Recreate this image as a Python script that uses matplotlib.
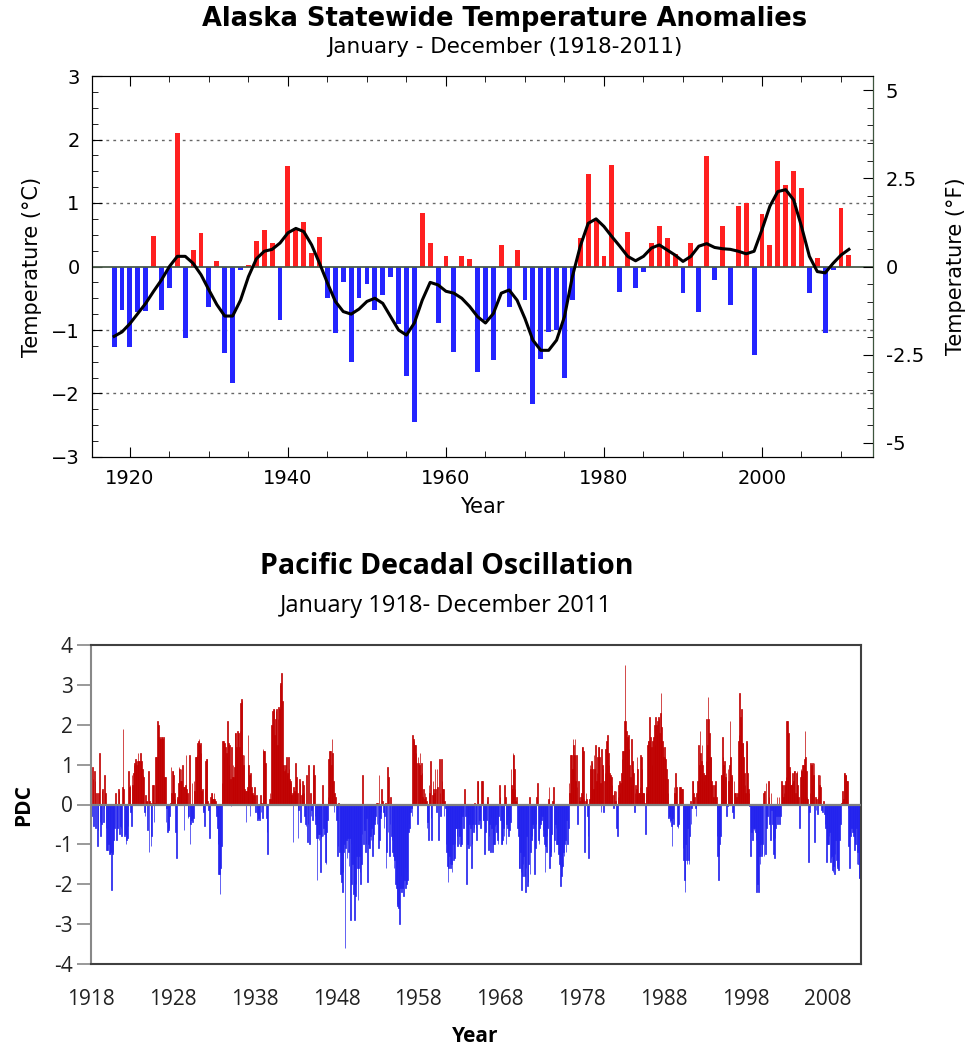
import numpy as np
import matplotlib
matplotlib.use("Agg")
import matplotlib.pyplot as plt
from matplotlib.ticker import MultipleLocator

# ---- Alaska annual temperature anomalies (deg C), 1918-2011
ak_years = list(range(1918, 2012))
ak_anom = [
    -1.27, -0.69, -1.27, -0.72, -0.70, 0.48, -0.68, -0.34, 2.10, -1.12,   # 1918-1927
    0.26, 0.52, -0.63, 0.09, -1.37, -1.83, -0.05, 0.03, 0.40, 0.58,       # 1928-1937
    0.37, -0.84, 1.58, 0.60, 0.70, 0.21, 0.47, -0.50, -1.05, -0.24,       # 1938-1947
    -1.50, -0.50, -0.27, -0.69, -0.45, -0.17, -0.90, -1.72, -2.45, 0.84,  # 1948-1957
    0.37, -0.89, 0.16, -1.34, 0.16, 0.12, -1.66, -0.84, -1.47, 0.34,      # 1958-1967
    -0.63, 0.26, -0.53, -2.16, -1.45, -1.03, -1.00, -1.76, -0.53, 0.45,   # 1968-1977
    1.45, 0.71, 0.17, 1.60, -0.40, 0.55, -0.34, -0.08, 0.37, 0.63,        # 1978-1987
    0.45, 0.20, -0.42, 0.37, -0.71, 1.74, -0.21, 0.63, -0.60, 0.95,       # 1988-1997
    1.00, -1.39, 0.82, 0.34, 1.66, 1.29, 1.50, 1.24, -0.42, 0.13,         # 1998-2007
    -1.05, -0.05, 0.92, 0.18,                                             # 2008-2011
]
# smoothed curve
ak_smooth = [
    -1.10, -1.03, -0.90, -0.74, -0.58, -0.39, -0.21, 0.00, 0.16, 0.16,
    0.05, -0.13, -0.37, -0.60, -0.78, -0.78, -0.53, -0.16, 0.12, 0.24,
    0.27, 0.37, 0.53, 0.60, 0.55, 0.34, 0.05, -0.26, -0.55, -0.71,
    -0.75, -0.67, -0.55, -0.50, -0.58, -0.79, -1.00, -1.08, -0.89, -0.53,
    -0.25, -0.29, -0.39, -0.42, -0.50, -0.63, -0.79, -0.89, -0.74, -0.42,
    -0.37, -0.53, -0.82, -1.16, -1.32, -1.32, -1.16, -0.79, -0.16, 0.32,
    0.68, 0.75, 0.63, 0.47, 0.32, 0.16, 0.09, 0.16, 0.29, 0.34,
    0.26, 0.18, 0.08, 0.16, 0.32, 0.36, 0.30, 0.28, 0.27, 0.24,
    0.20, 0.24, 0.58, 0.95, 1.18, 1.21, 1.05, 0.63, 0.16, -0.08,
    -0.10, 0.05, 0.18, 0.27,
]

# ---- PDO monthly index, Jan 1918 - Dec 2011 (one row per year)
pdo_start = 1918
pdo = [
    -1.1, -0.3, 0.95, 0.65, -0.55, 0.85, 0.6, -0.6, 0.3, -1.05, -0.65, 0.3,      # 1918
    1.3, -0.45, -0.8, -0.5, 0.35, 0.4, -0.45, -0.1, 0.75, 0.3, -0.6, -1.15,       # 1919
    -1.15, -0.6, -1.0, -1.25, -1.25, -1.2, -2.15, -1.25, -1.2, -0.9, -0.6, 0.05,  # 1920
    0.3, -0.9, -0.6, -0.6, 0.4, 0.35, -0.75, -0.55, -0.6, -0.8, 0.45, 1.9,        # 1921
    0.4, -0.8, -0.75, -1.0, -0.9, -0.85, -0.55, 0.85, 0.45, 0.5, -0.2, -0.55,     # 1922
    0.75, 0.5, 0.8, 1.0, 1.05, 1.15, 1.1, 1.0, 1.1, 1.3, 1.1, 1.1,                # 1923
    1.3, 1.1, 1.1, 0.9, 0.75, 0.7, -0.2, -0.3, 0.25, 0.1, 0.1, -0.65,             # 1924
    0.85, -1.2, 0.1, 0.05, -1.05, -0.8, 0.5, 0.5, -0.45, 0.05, 1.2, 0.5,          # 1925
    1.2, 2.1, 2.0, 2.0, 1.7, 1.65, 1.65, 1.7, 1.7, 1.65, 1.7, 0.7,                # 1926
    0.7, 0.7, -0.45, -0.1, -0.7, -0.65, -0.6, -0.3, 0.05, 0.95, 0.3, 0.85,        # 1927
    0.85, 0.75, 0.3, 0.15, -0.7, -1.35, 0.15, 0.2, 0.55, 0.95, 0.9, 0.6,          # 1928
    0.9, 0.6, 1.0, 0.45, -0.65, 0.45, 0.5, 1.25, 0.4, 0.3, -0.35, -0.3,           # 1929
    1.25, -1.0, -0.5, -0.4, 0.55, -0.45, -0.35, 0.6, 0.35, 1.2, 1.2, 1.25,        # 1930
    1.55, 1.6, 1.65, 1.5, 1.55, 1.3, 0.35, 0.4, -0.15, -0.2, -0.55, 0.4,          # 1931
    1.1, 1.15, 1.15, 0.1, -0.15, 0.05, -0.85, 0.2, 0.3, 0.3, 0.15, 0.15,          # 1932
    0.3, 0.15, 0.1, -0.1, -0.3, -0.6, -1.0, -1.75, -1.75, -2.25, -1.6, -1.05,     # 1933
    0.55, 1.6, 1.6, 1.2, 1.55, 1.45, 1.3, 1.2, 2.1, 1.55, 1.0, 1.5,               # 1934
    0.65, -0.05, 1.45, 0.7, 1.0, 0.7, 0.95, 1.8, 1.8, 1.45, 1.2, 1.85,            # 1935
    1.8, 1.45, 1.85, 2.55, 2.65, 2.6, 1.25, 1.0, 1.25, 0.4, 0.35, -0.45,          # 1936
    0.35, 0.45, 1.75, 1.0, 0.75, -0.3, 0.8, 0.45, 0.3, 0.3, 0.25, 0.45,           # 1937
    0.25, -0.2, 0.25, -0.25, -0.4, -0.35, 0.0, -0.4, 0.25, -0.2, 0.05, -0.35,     # 1938
    1.4, 1.35, 1.35, 1.05, 1.05, -0.35, -0.7, -1.25, 0.0, 0.15, 0.3, 0.15,        # 1939
    2.0, 2.0, 2.35, 2.4, 2.4, 1.75, 2.15, 2.35, 2.4, 1.5, 2.15, 2.45,             # 1940
    2.4, 3.0, 3.05, 3.3, 2.6, 1.0, 1.0, 0.85, 0.9, 1.0, 1.2, 0.75,                # 1941
    0.8, 1.2, 0.9, 0.65, 0.6, 0.55, 0.25, 0.3, -0.95, 0.45, 0.35, 0.3,            # 1942
    1.05, 0.7, 0.3, -0.85, -0.15, 0.65, 0.55, -0.45, 0.25, 0.3, 0.6, 0.5,         # 1943
    0.3, -0.3, -0.5, -0.55, 0.75, -0.95, -0.5, 1.0, -1.0, 0.3, -0.3, -0.15,       # 1944
    -0.4, 0.9, 1.0, 0.75, -0.3, -0.5, -0.85, -1.9, -0.85, -0.75, -0.9, -0.75,     # 1945
    -1.7, -0.85, -0.8, 0.5, -0.8, -0.6, -0.75, -1.45, -1.5, -0.7, -0.4, 0.2,      # 1946
    1.15, 1.35, 0.95, 1.35, 1.0, 1.65, 1.3, 0.6, -0.2, 0.3, 0.2, 0.05,            # 1947
    -0.4, -1.3, -1.05, 0.05, -1.2, -1.75, -1.3, -1.95, -2.2, -1.7, -1.2, -1.0,    # 1948
    -3.6, -1.1, -0.9, -1.35, -0.85, -1.2, -1.55, -0.85, -2.9, -1.0, -2.0, -1.5,   # 1949
    -2.25, -2.0, -2.9, -2.3, -2.0, -1.3, -1.6, -2.4, -1.6, -1.3, -1.7, -2.0,      # 1950
    -1.5, -0.75, 0.75, -1.0, -0.5, -0.65, -1.2, -1.0, -0.35, -1.95, -1.0, -1.1,   # 1951
    -1.1, -0.8, -0.9, -0.6, -1.3, -0.9, -0.75, -0.5, -0.4, -0.3, 0.05, -0.5,      # 1952
    0.05, -1.1, 0.75, -0.9, -0.35, -0.2, 0.4, 0.1, -0.2, -0.6, -0.3, 0.05,        # 1953
    -1.6, -1.2, 0.95, -0.7, 0.7, -1.3, -0.5, 0.2, -0.8, -0.9, -1.2, -1.3,         # 1954
    -1.6, -1.4, -2.0, -2.1, -2.5, -2.55, -2.6, -2.5, -3.0, -2.1, -1.8, -2.2,      # 1955
    -2.1, -2.0, -2.3, -1.9, -1.6, -2.1, -2.0, -1.7, -1.9, -0.7, -0.5, -0.6,       # 1956
    -0.2, -0.1, -0.3, 1.75, 1.65, 1.6, 1.5, 1.5, 1.3, 1.05, -0.5, 1.2,            # 1957
    1.05, 1.0, 1.3, 0.75, 1.05, 0.8, 0.2, 0.4, 0.15, 0.3, 0.2, 0.1,               # 1958
    -0.6, -0.45, -0.9, 0.5, 0.3, 1.1, -0.35, -0.9, 0.25, 0.6, 0.4, 0.3,           # 1959
    0.9, 0.4, -0.2, 0.9, 0.45, -0.9, 1.15, 0.3, -0.3, 1.15, 0.6, 0.4,             # 1960
    0.4, -0.3, 0.1, -0.1, -1.0, -1.2, -1.55, -1.95, -1.6, -1.3, -1.5, -1.6,       # 1961
    -1.5, -1.7, -1.0, -1.4, -1.35, -1.0, -0.6, -0.6, -0.8, -1.05, -0.6, -1.0,     # 1962
    -0.8, -1.05, -0.5, -1.0, -0.3, -0.2, -0.6, 0.4, 0.05, -0.3, -2.0, -1.0,       # 1963
    -1.0, -1.1, -0.5, -1.05, -0.6, -1.6, -1.0, -0.5, -0.7, -0.6, 0.05, -0.5,      # 1964
    -0.6, -0.9, 0.6, 0.6, -0.5, -0.4, -0.2, -0.6, 0.6, 0.6, -0.4, -0.4,           # 1965
    -1.25, -0.35, -0.7, -0.4, 0.1, 0.2, -1.15, -0.8, -0.5, -1.2, -0.35, -0.6,     # 1966
    -1.2, -0.8, -1.0, -1.0, -0.55, -0.5, -0.7, -0.9, -1.0, -0.3, 0.5, 0.2,        # 1967
    -0.4, -1.0, -1.0, -0.9, -0.6, -0.8, 0.5, 0.2, -1.0, -0.5, -0.6, -0.3,         # 1968
    -0.8, -0.65, -0.45, 0.9, 0.5, 0.4, 1.3, 1.25, 0.9, 0.4, 0.1, 0.2,             # 1969
    0.05, -0.6, -0.8, -1.6, -1.6, -1.2, -1.7, -2.15, -1.8, -1.5, -1.3, -1.8,      # 1970
    -2.2, -1.6, -0.8, -2.05, -1.95, -1.5, 0.2, -1.75, -1.2, -0.9, -0.8, -0.5,     # 1971
    -0.6, -0.5, -1.75, -1.1, -0.5, 0.2, 0.55, -0.9, -1.0, -0.6, -0.5, -0.3,       # 1972
    -0.4, -0.3, -0.65, -0.8, -1.0, -1.7, -1.05, -1.2, -0.8, -0.6, 0.15, 0.45,     # 1973
    -1.6, -1.3, -1.2, -0.75, 0.1, 0.45, -1.2, -0.9, -0.5, -0.6, -1.0, -1.0,       # 1974
    -1.0, -1.25, -1.5, -1.55, -2.05, -1.8, -1.6, -1.55, -1.2, -1.3, -1.0, -0.9,   # 1975
    -1.2, -0.4, -1.0, -0.6, 0.55, 0.3, 1.25, 0.6, 1.25, 0.9, 1.65, 1.5,           # 1976
    1.25, 1.65, 0.6, 1.25, 0.45, -0.5, 0.6, 0.2, 0.1, 0.2, 0.3, 1.45,             # 1977
    1.45, 1.35, 0.15, -1.2, 0.1, 0.3, 0.15, -0.3, -0.8, -1.35, 0.15, 1.0,         # 1978
    0.9, 1.1, 1.05, 0.9, 0.4, 1.25, 0.9, 1.5, 0.6, 0.8, 1.2, 1.45,                # 1979
    1.45, 1.2, 0.55, -0.2, 1.4, 1.0, 0.9, -0.2, 0.6, 0.8, 1.4, 1.6,               # 1980
    1.6, 1.75, 1.3, 1.0, 0.8, 0.75, 0.7, 0.5, 0.25, -0.1, 0.3, 0.35,              # 1981
    0.1, 0.35, -0.6, -0.8, 0.2, 0.5, 0.6, 0.3, 0.55, 0.8, 1.15, 1.35,             # 1982
    1.35, 2.1, 3.5, 2.1, 1.85, 1.6, 1.7, 1.75, 1.4, 1.0, 0.7, 0.5,                # 1983
    1.65, 1.1, 0.9, 0.8, -0.2, 0.3, 0.5, 0.4, 1.2, 0.9, 0.3, 0.3,                 # 1984
    0.45, 1.25, 1.2, 0.9, 0.3, 0.3, 0.3, 0.05, -0.75, 0.3, 0.45, 1.5,             # 1985
    1.6, 1.6, 2.2, 1.6, 1.7, 1.45, 1.0, 1.6, 1.7, 2.0, 1.5, 2.2,                  # 1986
    2.0, 1.75, 2.1, 2.2, 2.15, 1.8, 2.3, 2.8, 1.95, 1.6, 1.45, 1.2,               # 1987
    1.45, 1.2, 1.15, 0.9, 0.65, 0.3, -0.35, -0.3, -0.45, -0.4, -0.55, -1.05,      # 1988
    -0.35, -0.5, 0.45, 0.3, 0.8, 0.3, 0.45, -0.55, -0.6, -0.5, 0.45, 0.4,         # 1989
    0.45, 0.4, 0.4, -1.1, -1.4, -1.9, -2.2, -1.0, -1.4, -1.5, -0.6, -1.4,         # 1990
    -1.5, -0.8, 0.1, -0.5, -0.1, 0.6, 0.6, 0.3, 0.2, -0.1, -0.3, 0.3,             # 1991
    0.6, 0.5, 1.5, 1.0, 1.85, 1.3, 1.1, 1.5, 1.0, 0.8, 0.6, 0.75,                 # 1992
    0.75, 1.1, 2.15, 1.5, 2.7, 2.15, 1.8, 1.2, 1.2, 0.6, 0.5, 0.2,                # 1993
    0.2, 0.5, 0.4, 0.6, 0.2, -0.8, -1.3, -1.9, -1.3, -1.0, -0.8, 0.75,            # 1994
    0.75, 1.7, 1.2, 1.0, 1.1, 0.7, 0.8, -0.3, -0.05, 0.9, 0.6, 1.0,               # 1995
    2.1, 1.2, 0.75, 0.7, -0.2, -0.35, 0.6, 0.3, 0.3, 0.1, 0.2, 0.3,               # 1996
    1.6, 1.75, 2.8, 2.2, 2.05, 2.4, 1.55, 1.55, 1.2, 0.8, 0.5, 0.3,               # 1997
    1.6, 1.55, 0.8, 0.4, 0.3, -0.05, -1.3, -0.6, -0.7, -0.9, -0.6, -0.65,         # 1998
    -0.6, -0.7, -0.9, -2.2, -2.0, -1.9, -2.2, -1.3, -1.5, -1.0, -1.3, -1.25,      # 1999
    -1.0, 0.3, -1.3, 0.35, -1.25, 0.55, -0.6, -0.3, 0.6, 0.2, -0.5, -0.9,         # 2000
    0.3, -0.15, -0.5, -0.9, -1.25, -1.35, -0.85, -0.6, -0.3, 0.2, -0.5, -0.3,     # 2001
    0.2, -0.5, -0.3, 0.6, 0.3, 0.5, 0.2, 0.3, 0.5, 0.6, 0.7, 2.1,                 # 2002
    2.1, 1.75, 1.8, 0.95, 0.85, 0.5, 0.5, 0.55, 0.8, 0.6, 0.85, 0.85,             # 2003
    0.3, 0.8, 0.85, 0.5, 0.2, 0.0, -0.6, 0.7, 0.9, 0.85, 1.0, 0.7,                # 2004
    1.0, 1.15, 1.85, 1.2, 0.85, 0.2, 0.15, -1.45, -0.2, 0.3, 1.05, 1.0,           # 2005
    0.5, 1.05, 0.75, 1.05, -0.95, 0.2, -0.15, 0.15, -0.25, 0.2, 0.75, 0.5,        # 2006
    0.75, 0.45, -0.15, -0.15, -0.2, 0.1, -0.25, -0.5, -0.6, -1.45, -1.0, -1.0,    # 2007
    -1.0, -0.8, -0.7, -1.45, -1.35, -1.3, -1.65, -1.7, -1.55, -1.75, -1.25, -0.9, # 2008
    -1.4, -1.55, -1.6, -1.65, -0.9, -0.4, -0.5, 0.05, 0.1, 0.35, 0.15, 0.8,       # 2009
    0.8, 0.75, 0.75, 0.6, 0.6, -0.1, -1.05, -1.6, -0.75, -0.8, -0.6, -0.7,        # 2010
    -0.7, -0.8, -1.15, -0.75, -1.0, -0.6, -1.5, -1.2, -1.5, -1.85, -1.85, -2.3,   # 2011
]
pdo_ticks = list(range(1918, 2009, 10))

TOPF = ["DejaVu Sans"]
CAL = ["Open Sans", "DejaVu Sans"]

fig = plt.figure(figsize=(9.72, 10.51), dpi=100)

# ================= top: Alaska =================
ax = fig.add_axes([92 / 972, 1 - 457 / 1051, 781 / 972, 381 / 1051])
yrs = np.array(ak_years)
vals = np.array(ak_anom)
cols = np.where(vals >= 0, "#ff2020", "#2424ff")
ax.bar(yrs, vals, width=0.62, color=cols, zorder=2)
ax.plot(yrs, ak_smooth, color="black", lw=2.2, zorder=4)
ax.axhline(0, color="#4a5a4a", lw=1.3, zorder=3)
for g in [-2, -1, 1, 2]:
    ax.axhline(g, color="#666666", lw=1.0, ls=(0, (2, 3)), zorder=1)

ax.set_xlim(1915.2, 2014.05)
ax.set_ylim(-3, 3)
ax.xaxis.set_major_locator(MultipleLocator(20))
ax.xaxis.set_minor_locator(MultipleLocator(5))
ax.yaxis.set_major_locator(MultipleLocator(1))
ax.yaxis.set_minor_locator(MultipleLocator(0.25))
ax.tick_params(which="both", direction="in", top=True, labelsize=14, pad=9)
ax.tick_params(which="major", length=7)
ax.tick_params(which="minor", length=4)
for lab in ax.get_xticklabels() + ax.get_yticklabels():
    lab.set_family(TOPF)
ax.set_xlabel("Year", fontsize=15, family=TOPF, labelpad=6)
ax.set_ylabel("Temperature (\u00b0C)", fontsize=15, family=TOPF, labelpad=6)

axr = ax.twinx()
axr.set_ylim(-3 * 1.8, 3 * 1.8)
axr.yaxis.set_major_locator(MultipleLocator(2.5))
axr.yaxis.set_minor_locator(MultipleLocator(0.5))
axr.tick_params(which="both", direction="in", labelsize=14, pad=9)
axr.tick_params(which="major", length=7)
axr.tick_params(which="minor", length=4)
axr.set_yticks([-5, -2.5, 0, 2.5, 5])
axr.set_yticklabels(["-5", "-2.5", "0", "2.5", "5"], family=TOPF)
axr.set_ylabel("Temperature (\u00b0F)", fontsize=15, family=TOPF, labelpad=16)
axr.spines["right"].set_color("#3d553d")

fig.text(505 / 972, 1 - 19 / 1051, "Alaska Statewide Temperature Anomalies",
         ha="center", va="center", fontsize=18.5, fontweight="bold", family=TOPF)
fig.text(505 / 972, 1 - 47 / 1051, "January - December (1918-2011)",
         ha="center", va="center", fontsize=15.5, family=TOPF)

# ================= bottom: PDO =================
bx = fig.add_axes([90.7 / 972, 1 - 964 / 1051, 770 / 972, 319 / 1051])
p = np.array(pdo)
t = pdo_start + np.arange(len(p)) / 12.0
pc = np.where(p >= 0, "#c00000", "#2222ee")
bx.bar(t, p, width=1 / 12.0, align="edge", color=pc, edgecolor=pc,
       linewidth=0.5, zorder=2)
bx.axhline(0, color="#808080", lw=1.6, zorder=3)
bx.set_xlim(1918, 2012)
bx.set_ylim(-4, 4)
bx.set_xticks(pdo_ticks)
bx.set_xticklabels([str(v) for v in pdo_ticks], family=CAL, fontsize=15, color="#222222")
bx.set_yticks(range(-4, 5))
bx.set_yticklabels([str(v) for v in range(-4, 5)], family=CAL, fontsize=15, color="#222222")
bx.tick_params(axis="x", length=0, pad=18)
bx.tick_params(axis="y", length=10, color="#888888", width=1.2, pad=3)
bx.spines["left"].set_color("#888888")
bx.spines["left"].set_linewidth(1.5)
for s in ["top", "right", "bottom"]:
    bx.spines[s].set_color("#404040")
    bx.spines[s].set_linewidth(1.5)
bx.set_ylabel("PDC", fontsize=15, fontweight="bold", family=CAL, labelpad=14)
fig.text(475 / 972, 1 - 1036 / 1051, "Year", ha="center", va="center",
         fontsize=15, fontweight="bold", family=CAL)

fig.text(447 / 972, 1 - 566 / 1051, "Pacific Decadal Oscillation",
         ha="center", va="center", fontsize=20.5, fontweight="bold", family=CAL)
fig.text(446 / 972, 1 - 606 / 1051, "January 1918- December 2011",
         ha="center", va="center", fontsize=17, family=CAL)

fig.savefig("out.png", dpi=100)
